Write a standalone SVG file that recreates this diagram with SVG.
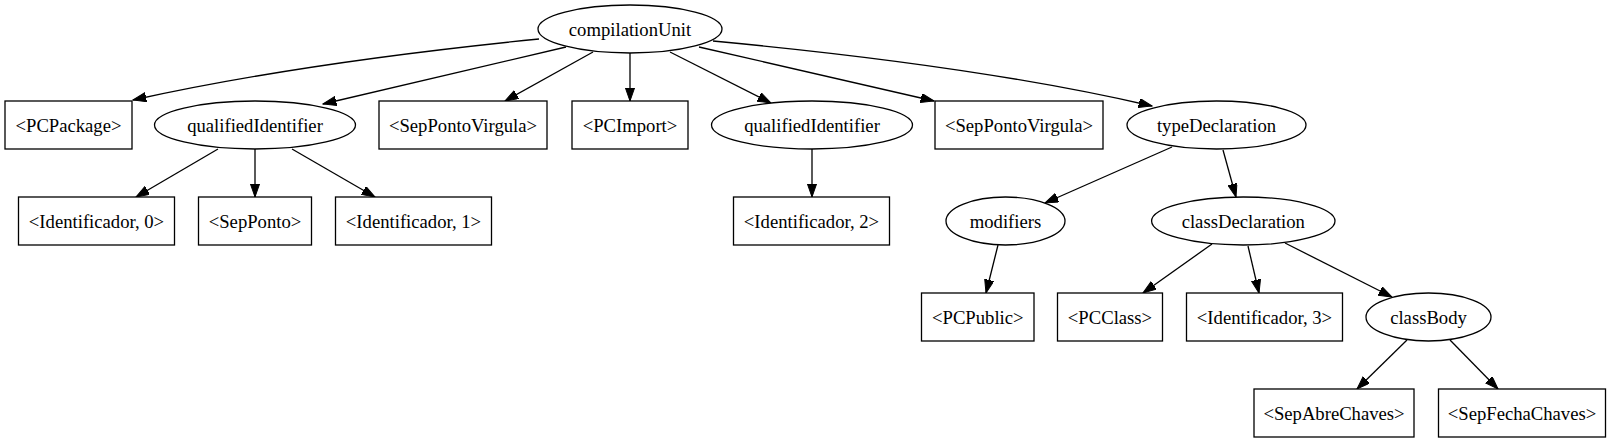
<svg xmlns="http://www.w3.org/2000/svg" width="1611" height="443" viewBox="0 0 1611 443">
<style>
.n ellipse, .n rect { fill: #ffffff; stroke: #000000; stroke-width: 1.3; }
.n text { font-family: "Liberation Serif", "Times New Roman", serif; font-size: 18.67px; text-anchor: middle; fill: #000000; }
.e path { fill: none; stroke: #000000; stroke-width: 1.3; marker-end: url(#arr); }
</style>
<defs>
<marker id="arr" markerUnits="userSpaceOnUse" markerWidth="14" markerHeight="10" refX="13.3" refY="4.67" orient="auto">
<path d="M0,0 L13.3,4.67 L0,9.33 z" fill="#000000" stroke="#000000" stroke-width="1"/>
</marker>
</defs>
<rect width="1611" height="443" fill="#ffffff"/>
<g id="edges" class="e">
<path d="M539,39 Q300,63 133,100"/>
<path d="M566,47 L323,104"/>
<path d="M593,52 L505,101"/>
<path d="M630,53 L630,101"/>
<path d="M670,52 L771,103"/>
<path d="M699,47 L934,101"/>
<path d="M713,41 Q980,66 1152,106"/>
<path d="M218,149 L136,197"/>
<path d="M255,149 L255,197"/>
<path d="M292,149 L375,197"/>
<path d="M812,149 L812,197"/>
<path d="M1172,147 L1045,203"/>
<path d="M1223,150 L1236,197"/>
<path d="M998,245 L986,293"/>
<path d="M1212,244 L1143,293"/>
<path d="M1248,246 L1259,293"/>
<path d="M1285,243 L1392,297"/>
<path d="M1407,340 L1357,389"/>
<path d="M1450,340 L1498,389"/>
</g>
<g id="compilationUnit" class="n"><ellipse cx="630" cy="29" rx="92" ry="24"/><text x="630" y="35.5">compilationUnit</text></g>
<g id="PCPackage" class="n"><rect x="5" y="101" width="127" height="48"/><text x="68.5" y="131.5">&lt;PCPackage&gt;</text></g>
<g id="qualifiedIdentifier1" class="n"><ellipse cx="255" cy="125" rx="100.5" ry="24"/><text x="255" y="131.5">qualifiedIdentifier</text></g>
<g id="SepPontoVirgula1" class="n"><rect x="379" y="101" width="168" height="48"/><text x="463" y="131.5">&lt;SepPontoVirgula&gt;</text></g>
<g id="PCImport" class="n"><rect x="572" y="101" width="116" height="48"/><text x="630" y="131.5">&lt;PCImport&gt;</text></g>
<g id="qualifiedIdentifier2" class="n"><ellipse cx="812" cy="125" rx="100.5" ry="24"/><text x="812" y="131.5">qualifiedIdentifier</text></g>
<g id="SepPontoVirgula2" class="n"><rect x="935" y="101" width="168" height="48"/><text x="1019" y="131.5">&lt;SepPontoVirgula&gt;</text></g>
<g id="typeDeclaration" class="n"><ellipse cx="1216.5" cy="125" rx="89.5" ry="24"/><text x="1216.5" y="131.5">typeDeclaration</text></g>
<g id="Identificador0" class="n"><rect x="18.5" y="197" width="156" height="48"/><text x="96.5" y="227.5">&lt;Identificador, 0&gt;</text></g>
<g id="SepPonto" class="n"><rect x="198.5" y="197" width="113" height="48"/><text x="255" y="227.5">&lt;SepPonto&gt;</text></g>
<g id="Identificador1" class="n"><rect x="335.5" y="197" width="156" height="48"/><text x="413.5" y="227.5">&lt;Identificador, 1&gt;</text></g>
<g id="Identificador2" class="n"><rect x="733.5" y="197" width="156" height="48"/><text x="811.5" y="227.5">&lt;Identificador, 2&gt;</text></g>
<g id="modifiers" class="n"><ellipse cx="1005.5" cy="221" rx="59.5" ry="24"/><text x="1005.5" y="227.5">modifiers</text></g>
<g id="classDeclaration" class="n"><ellipse cx="1243.3" cy="221" rx="91.7" ry="24"/><text x="1243.3" y="227.5">classDeclaration</text></g>
<g id="PCPublic" class="n"><rect x="921.5" y="293" width="112.5" height="48"/><text x="977.8" y="323.5">&lt;PCPublic&gt;</text></g>
<g id="PCClass" class="n"><rect x="1057.5" y="293" width="105" height="48"/><text x="1110" y="323.5">&lt;PCClass&gt;</text></g>
<g id="Identificador3" class="n"><rect x="1186.5" y="293" width="156" height="48"/><text x="1264.5" y="323.5">&lt;Identificador, 3&gt;</text></g>
<g id="classBody" class="n"><ellipse cx="1428.5" cy="317" rx="62.5" ry="24"/><text x="1428.5" y="323.5">classBody</text></g>
<g id="SepAbreChaves" class="n"><rect x="1254" y="389" width="160" height="48"/><text x="1334" y="419.5">&lt;SepAbreChaves&gt;</text></g>
<g id="SepFechaChaves" class="n"><rect x="1438.5" y="389" width="167" height="48"/><text x="1522" y="419.5">&lt;SepFechaChaves&gt;</text></g>
</svg>
